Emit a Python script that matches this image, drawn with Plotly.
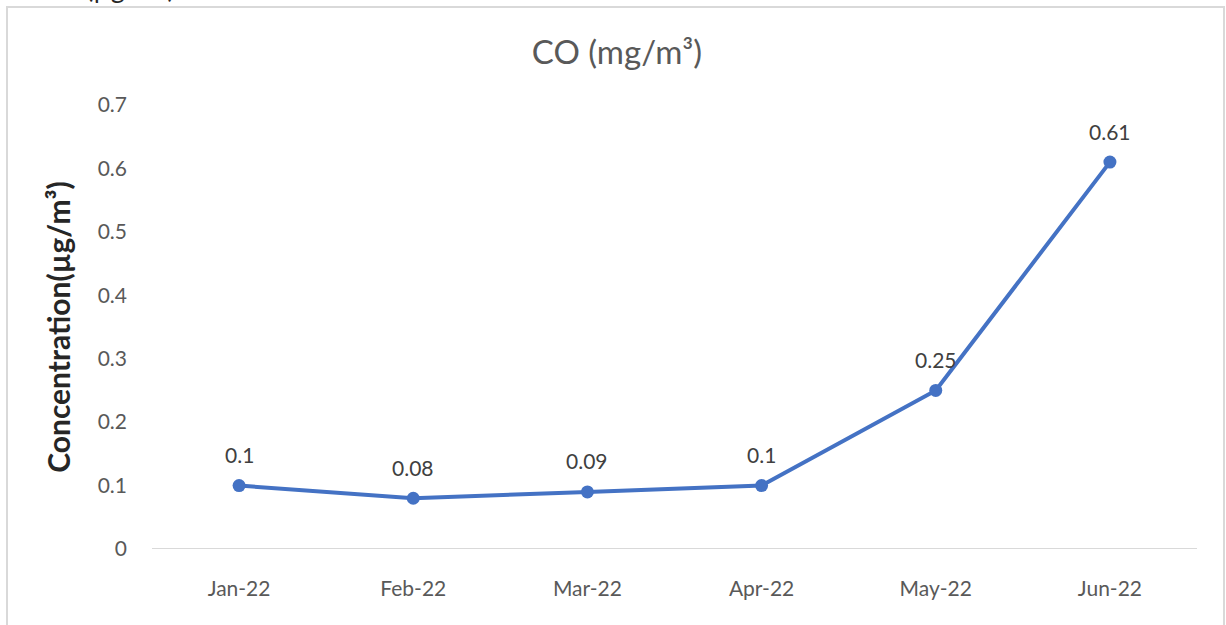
import plotly.graph_objects as go

months = ["Jan-22", "Feb-22", "Mar-22", "Apr-22", "May-22", "Jun-22"]
co_values = [0.1, 0.08, 0.09, 0.1, 0.25, 0.61]
y_ticks = [0, 0.1, 0.2, 0.3, 0.4, 0.5, 0.6, 0.7]
y_tick_labels = ["0", "0.1", "0.2", "0.3", "0.4", "0.5", "0.6", "0.7"]

FONT = "Lato, 'Open Sans', sans-serif"
W, H = 1226, 625
L, R, T, B = 152, 29, 105, 76
ph = H - T - B
pw = W - L - R

fig = go.Figure()
fig.add_trace(go.Scatter(
    x=months, y=co_values, mode="lines+markers",
    line=dict(color="#4472C4", width=4),
    marker=dict(color="#4472C4", size=13),
    cliponaxis=False, showlegend=False, hoverinfo="x+y",
))

for m, v in zip(months, co_values):
    fig.add_annotation(x=m, y=v, text=str(v), showarrow=False,
                       yshift=31, xanchor="center", yanchor="middle",
                       font=dict(family=FONT, size=21, color="#404040"))

fig.update_layout(
    width=W, height=H,
    margin=dict(l=L, r=R, t=T, b=B, autoexpand=False),
    paper_bgcolor="white", plot_bgcolor="white",
    title=dict(text="CO (mg/m³)", x=617 / W, xanchor="center",
               y=1 - 52 / H, yanchor="middle",
               font=dict(family=FONT, size=33, color="#595959")),
    xaxis=dict(type="category", range=[-0.5, len(months) - 0.5],
               showgrid=False, zeroline=False,
               showline=False, ticks="", ticklabelstandoff=25,
               tickfont=dict(family=FONT, size=21, color="#595959")),
    yaxis=dict(range=[0, 0.7], tickvals=y_ticks, ticktext=y_tick_labels,
               showgrid=False, zeroline=False, showline=False, ticks="",
               ticklabelstandoff=24,
               tickfont=dict(family=FONT, size=21, color="#595959"),
               title=dict(text="<b>Concentration(µg/m³)</b>", standoff=18,
                          font=dict(family=FONT, size=30, color="#262626"))),
)

# x axis baseline
fig.add_shape(type="line", xref="paper", yref="y", x0=0, x1=1, y0=0, y1=0,
              line=dict(color="#d9d9d9", width=2))
# chart border
fig.add_shape(type="rect", xref="paper", yref="paper",
              x0=(7 - L) / pw, x1=(1224 - L) / pw,
              y0=-0.5, y1=(H - B - 7) / ph,
              line=dict(color="#d9d9d9", width=2), fillcolor="rgba(0,0,0,0)")
# clipped text at the very top
fig.add_annotation(text="(µg/m³)", xref="paper", yref="paper",
                   x=(130 - L) / pw, y=(H - B - 6) / ph,
                   xanchor="center", yanchor="bottom", showarrow=False,
                   font=dict(family=FONT, size=27, color="#262626"))

fig.write_html("out.html", config={"displayModeBar": False},
               post_script="document.body.style.margin='0';")
